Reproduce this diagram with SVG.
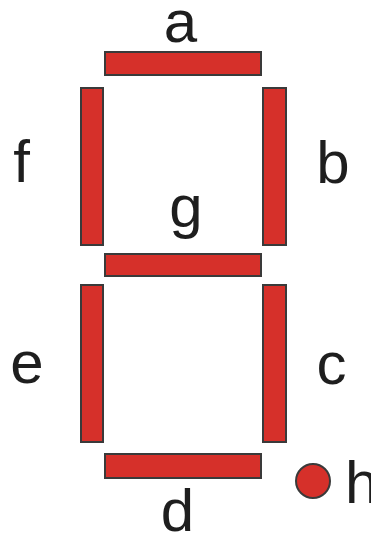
<svg xmlns="http://www.w3.org/2000/svg" width="371" height="535" viewBox="0 0 371 535">
<style>
.seg{fill:#d6302a;stroke:#3a3a3a;stroke-width:2}
.lbl{font-family:"Liberation Sans",Arial,sans-serif;font-size:60px;fill:#1e1e1e;text-anchor:middle}
</style>
<rect width="371" height="535" fill="#ffffff"/>
<g id="seg-a"><rect class="seg" x="105" y="52" width="156" height="23"/><text class="lbl" x="180.5" y="42">a</text></g>
<g id="seg-b"><rect class="seg" x="263" y="88" width="23" height="157"/><text class="lbl" x="333" y="183">b</text></g>
<g id="seg-c"><rect class="seg" x="263" y="285" width="23" height="157"/><text class="lbl" x="331.5" y="384">c</text></g>
<g id="seg-d"><rect class="seg" x="105" y="454" width="156" height="24"/><text class="lbl" x="177.5" y="531">d</text></g>
<g id="seg-e"><rect class="seg" x="81" y="285" width="22" height="157"/><text class="lbl" x="27" y="383">e</text></g>
<g id="seg-f"><rect class="seg" x="81" y="88" width="22" height="157"/><text class="lbl" x="21.5" y="182">f</text></g>
<g id="seg-g"><rect class="seg" x="105" y="254" width="156" height="22"/><text class="lbl" x="186" y="227">g</text></g>
<g id="seg-h"><circle class="seg" cx="313" cy="481" r="17"/><text class="lbl" x="345" y="503" style="text-anchor:start">h</text></g>
</svg>
